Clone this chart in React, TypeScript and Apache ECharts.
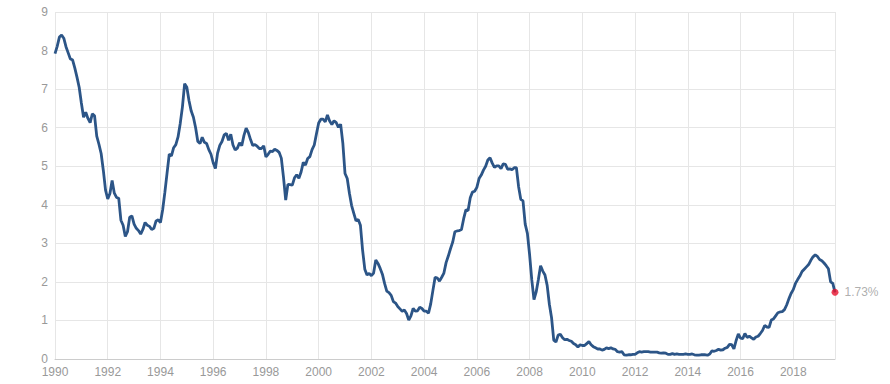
import React, { useEffect, useRef } from "react";
import * as echarts from "echarts";

const startYear = 1990;
// Monthly values, Jan 1990 .. Aug 2019
const y1990 = [7.92, 8.11, 8.35, 8.40, 8.32, 8.10, 7.94, 7.78, 7.76, 7.55, 7.31, 7.05];
const y1991 = [6.64, 6.27, 6.40, 6.24, 6.13, 6.36, 6.31, 5.78, 5.57, 5.33, 4.89, 4.38];
const y1992 = [4.15, 4.29, 4.63, 4.30, 4.19, 4.17, 3.60, 3.47, 3.18, 3.30, 3.68, 3.71];
const y1993 = [3.50, 3.39, 3.33, 3.24, 3.36, 3.54, 3.47, 3.44, 3.36, 3.39, 3.58, 3.61];
const y1994 = [3.54, 3.87, 4.32, 4.82, 5.31, 5.27, 5.48, 5.56, 5.76, 6.11, 6.54, 7.14];
const y1995 = [7.05, 6.70, 6.43, 6.27, 6.00, 5.64, 5.59, 5.75, 5.62, 5.59, 5.43, 5.31];
const y1996 = [5.09, 4.94, 5.34, 5.54, 5.64, 5.81, 5.85, 5.67, 5.83, 5.55, 5.42, 5.47];
const y1997 = [5.61, 5.53, 5.80, 5.99, 5.87, 5.69, 5.54, 5.56, 5.52, 5.46, 5.46, 5.53];
const y1998 = [5.24, 5.31, 5.39, 5.38, 5.44, 5.41, 5.36, 5.21, 4.71, 4.12, 4.53, 4.52];
const y1999 = [4.51, 4.70, 4.78, 4.69, 4.85, 5.10, 5.03, 5.20, 5.25, 5.43, 5.55, 5.84];
const y2000 = [6.12, 6.22, 6.22, 6.15, 6.33, 6.17, 6.08, 6.18, 6.13, 6.01, 6.09, 5.60];
const y2001 = [4.81, 4.68, 4.30, 3.98, 3.78, 3.58, 3.62, 3.47, 2.82, 2.33, 2.18, 2.22];
const y2002 = [2.16, 2.23, 2.57, 2.48, 2.35, 2.20, 1.96, 1.76, 1.72, 1.65, 1.49, 1.45];
const y2003 = [1.36, 1.30, 1.24, 1.27, 1.18, 1.01, 1.12, 1.31, 1.24, 1.25, 1.34, 1.31];
const y2004 = [1.24, 1.24, 1.19, 1.43, 1.78, 2.12, 2.10, 2.02, 2.12, 2.23, 2.50, 2.67];
const y2005 = [2.86, 3.03, 3.30, 3.32, 3.33, 3.36, 3.64, 3.87, 3.85, 4.18, 4.33, 4.35];
const y2006 = [4.45, 4.68, 4.77, 4.90, 5.00, 5.16, 5.22, 5.08, 4.97, 5.01, 5.01, 4.94];
const y2007 = [5.06, 5.05, 4.92, 4.93, 4.91, 4.96, 4.96, 4.47, 4.14, 4.10, 3.50, 3.26];
const y2008 = [2.71, 2.05, 1.54, 1.74, 2.06, 2.42, 2.28, 2.18, 1.91, 1.42, 1.07, 0.49];
const y2009 = [0.44, 0.62, 0.64, 0.55, 0.50, 0.51, 0.48, 0.46, 0.40, 0.37, 0.31, 0.37];
const y2010 = [0.35, 0.35, 0.40, 0.45, 0.37, 0.32, 0.29, 0.26, 0.26, 0.23, 0.25, 0.29];
const y2011 = [0.27, 0.29, 0.26, 0.25, 0.19, 0.18, 0.19, 0.11, 0.10, 0.11, 0.11, 0.12];
const y2012 = [0.12, 0.16, 0.19, 0.18, 0.19, 0.19, 0.19, 0.18, 0.18, 0.18, 0.18, 0.16];
const y2013 = [0.15, 0.16, 0.15, 0.12, 0.12, 0.14, 0.12, 0.13, 0.12, 0.12, 0.12, 0.13];
const y2014 = [0.12, 0.12, 0.13, 0.11, 0.10, 0.10, 0.11, 0.11, 0.11, 0.10, 0.13, 0.21];
const y2015 = [0.20, 0.22, 0.25, 0.23, 0.24, 0.28, 0.30, 0.38, 0.37, 0.26, 0.48, 0.65];
const y2016 = [0.54, 0.53, 0.66, 0.56, 0.59, 0.55, 0.51, 0.57, 0.59, 0.66, 0.74, 0.87];
const y2017 = [0.83, 0.82, 1.01, 1.04, 1.12, 1.20, 1.22, 1.23, 1.28, 1.40, 1.56, 1.70];
const y2018 = [1.80, 1.96, 2.06, 2.15, 2.27, 2.33, 2.39, 2.45, 2.56, 2.65, 2.70, 2.66];
const y2019 = [2.58, 2.55, 2.49, 2.42, 2.34, 2.00, 1.96, 1.73];

const allValues = [
  ...y1990, ...y1991, ...y1992, ...y1993, ...y1994, ...y1995, ...y1996, ...y1997,
  ...y1998, ...y1999, ...y2000, ...y2001, ...y2002, ...y2003, ...y2004, ...y2005,
  ...y2006, ...y2007, ...y2008, ...y2009, ...y2010, ...y2011, ...y2012, ...y2013,
  ...y2014, ...y2015, ...y2016, ...y2017, ...y2018, ...y2019,
];

const xTickYears = [1990, 1992, 1994, 1996, 1998, 2000, 2002, 2004, 2006, 2008, 2010, 2012, 2014, 2016, 2018];
const yTicks = [0, 1, 2, 3, 4, 5, 6, 7, 8, 9];

export default function App() {
  const ref = useRef<HTMLDivElement>(null);
  useEffect(() => {
    if (!ref.current) return;
    const chart = echarts.init(ref.current, null, { renderer: "svg" });
    const data = allValues.map((v, i) => [startYear + i / 12, v]);
    const lastIdx = data.length - 1;
    const last = data[lastIdx];
    const font = "Liberation Sans, Arial, sans-serif";
    chart.setOption({
      animation: false,
      grid: { left: 55, right: 55, top: 12, bottom: 25, containLabel: false },
      xAxis: {
        type: "value",
        min: startYear,
        max: last[0],
        interval: 2,
        axisLine: { show: true, lineStyle: { color: "#cccccc", width: 1 } },
        axisTick: { show: false },
        splitLine: { show: true, lineStyle: { color: "#e6e6e6", width: 1 } },
        axisLabel: {
          color: "#999999",
          fontSize: 12,
          fontFamily: font,
          margin: 7,
          showMaxLabel: false,
          formatter: (v: number) => (xTickYears.includes(Math.round(v)) ? String(Math.round(v)) : ""),
        },
      },
      yAxis: {
        type: "value",
        min: yTicks[0],
        max: yTicks[yTicks.length - 1],
        interval: 1,
        axisLine: { show: false },
        axisTick: { show: false },
        splitLine: { show: true, lineStyle: { color: "#e6e6e6", width: 1 } },
        axisLabel: {
          color: "#999999",
          fontSize: 12,
          fontFamily: font,
          margin: 7,
          lineHeight: 12,
          padding: [0, 0, 2, 0],
        },
      },
      series: [
        {
          type: "line",
          data,
          showSymbol: false,
          symbol: "none",
          lineStyle: { color: "#2c5587", width: 2.8 },
          z: 2,
        },
        {
          type: "scatter",
          data: [last],
          symbol: "circle",
          symbolSize: 7,
          itemStyle: { color: "#e8112d" },
          z: 3,
          label: {
            show: true,
            position: "right",
            distance: 6,
            formatter: () => `${last[1].toFixed(2)}%`,
            color: "#999999",
            fontSize: 12,
            fontFamily: font,
          },
        },
      ],
    });
    return () => chart.dispose();
  }, []);
  return (
    <div
      ref={ref}
      style={{ position: "absolute", left: 0, top: 0, width: 890, height: 384 }}
    />
  );
}
